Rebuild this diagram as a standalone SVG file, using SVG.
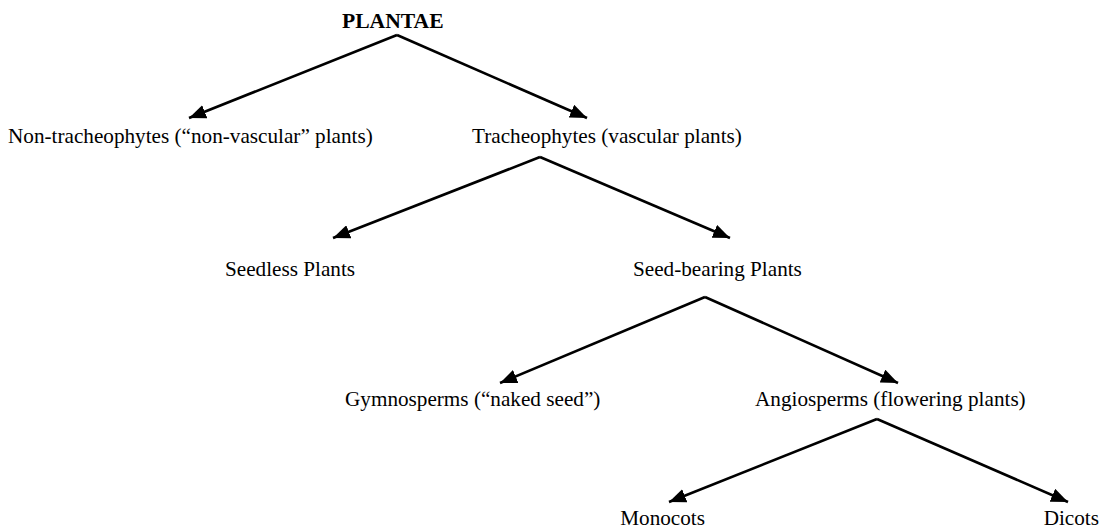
<svg xmlns="http://www.w3.org/2000/svg" width="1110" height="531" viewBox="0 0 1110 531">
<style>
.t{font-family:"Liberation Serif","Times New Roman",serif;font-size:21.2px;fill:#000}
.b{font-weight:bold;font-size:21.6px}
.c{stroke:#000;stroke-width:2.6;fill:none;marker-end:url(#ah)}
</style>
<defs>
<marker id="ah" markerUnits="userSpaceOnUse" markerWidth="18" markerHeight="14" refX="17" refY="7" orient="auto">
<path d="M0,0 L17,7 L0,14 z" fill="#000"/>
</marker>
</defs>
<rect width="1110" height="531" fill="#fff"/>
<g id="connectors">
<path class="c" d="M397,35 L189,118"/>
<path class="c" d="M397,35 L587,118"/>
<path class="c" d="M540,157 L333,238"/>
<path class="c" d="M540,157 L730,238"/>
<path class="c" d="M705,297 L500,383"/>
<path class="c" d="M705,297 L898,383"/>
<path class="c" d="M877,419 L669,502"/>
<path class="c" d="M877,419 L1068,502"/>
</g>
<g id="plantae"><text class="t b" x="342" y="28">PLANTAE</text></g>
<g id="non-tracheophytes"><text class="t" x="8" y="143">Non-tracheophytes (“non-vascular” plants)</text></g>
<g id="tracheophytes"><text class="t" x="472" y="143">Tracheophytes (vascular plants)</text></g>
<g id="seedless"><text class="t" x="225" y="276">Seedless Plants</text></g>
<g id="seed-bearing"><text class="t" x="633" y="276">Seed-bearing Plants</text></g>
<g id="gymnosperms"><text class="t" x="345" y="406">Gymnosperms (“naked seed”)</text></g>
<g id="angiosperms"><text class="t" x="755" y="406">Angiosperms (flowering plants)</text></g>
<g id="monocots"><text class="t" x="705" y="525" text-anchor="end">Monocots</text></g>
<g id="dicots"><text class="t" x="1099" y="525" text-anchor="end">Dicots</text></g>
</svg>
